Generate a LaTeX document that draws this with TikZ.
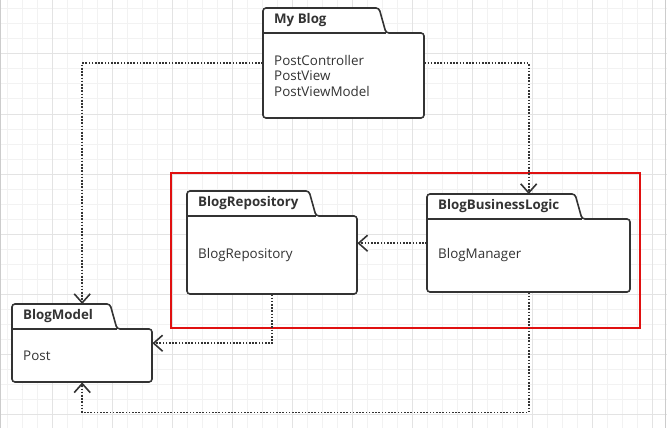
\documentclass[tikz,border=0pt]{standalone}
\usepackage{fontspec}
\setmainfont{Open Sans}
\usetikzlibrary{arrows.meta,calc}

\definecolor{pkgdark}{HTML}{333333}
\definecolor{gridminor}{HTML}{F2F2F2}
\definecolor{gridmajor}{HTML}{E3E3E3}
\definecolor{groupred}{HTML}{E01010}

\tikzset{%
	pkgframe/.style = {rectangle, inner sep=0pt, anchor=north west}, % whole package
	pkgline/.style  = {draw=pkgdark, line width=1.6pt, rounded corners=3pt, fill=white},
	pkgtitle/.style = {anchor=west, inner sep=0pt, text=pkgdark, font=\bfseries\fontsize{13.3}{15}\selectfont},
	pkgtext/.style  = {anchor=west, inner sep=0pt, align=left, text=pkgdark, font=\fontsize{13.4}{15.5}\selectfont},
	dep/.style      = {draw=pkgdark, line width=1.6pt, dash pattern=on 1.6pt off 1.6pt, -{Straight Barb[length=9pt,width=16pt]}},
	group/.style    = {draw=groupred, line width=1.6pt},
}

% name, x, y, width, height, tab width, title, contents
\newcommand{\umlpkg}[8]{%
	\node [pkgframe, minimum width=#4pt, minimum height=#5pt] (#1) at (#2,#3) {};
	\draw [pkgline] ({#2+#4/2},{#3+#5}) -- (#2,{#3+#5}) -- (#2,#3) -- ({#2+#6-7},#3) -- ({#2+#6},{#3+25}) -- ({#2+#4},{#3+25}) -- ({#2+#4},{#3+#5}) -- cycle;
	\draw [pkgline] (#2,{#3+25}) -- ({#2+#6},{#3+25});
	\node [pkgtitle] at ({#2+11},{#3+12.5}) {#7};
	\node [pkgtext] at ({#2+11},{#3+25+(#5-25)/2}) {#8};
}

\begin{document}
\begin{tikzpicture}[x=1pt,y=-1pt]
	\useasboundingbox (0,0) rectangle (667,428);
	
	% background grid
	\foreach \x in {7,22,...,667} \draw [gridminor, line width=1pt] (\x,0) -- (\x,428);
	\foreach \y in {9,24,...,428} \draw [gridminor, line width=1pt] (0,\y) -- (667,\y);
	\foreach \x in {52,112,...,667} \draw [gridmajor, line width=1pt] (\x,0) -- (\x,428);
	\foreach \y in {54,114,...,428} \draw [gridmajor, line width=1pt] (0,\y) -- (667,\y);
	\draw [gray!40, line width=1pt] (0.5,0) -- (0.5,428);
	\draw [gray!40, line width=1pt] (665.5,0) -- (665.5,428);
	
	\draw [group] (171,173) rectangle (640,328);
	
	\umlpkg{blog}{263}{8}{161}{110}{123}{My Blog}{PostController\\PostView\\PostViewModel}
	\umlpkg{repo}{187}{191}{170}{103}{129}{BlogRepository}{BlogRepository}
	\umlpkg{logic}{427}{194}{203}{98}{155}{BlogBusinessLogic}{BlogManager}
	\umlpkg{model}{12}{304}{140}{78}{105}{BlogModel}{Post}
	
	\draw [dep] (blog.west) -| (model.north);
	\draw [dep] (blog.east) -| (logic.north);
	\draw [dep] (logic.west) -- (logic.west -| repo.east);
	\draw [dep] (repo.south) |- (model.east);
	\draw [dep] (logic.south) -- ++(0,120) -| (model.south);
	
\end{tikzpicture}
\end{document}
